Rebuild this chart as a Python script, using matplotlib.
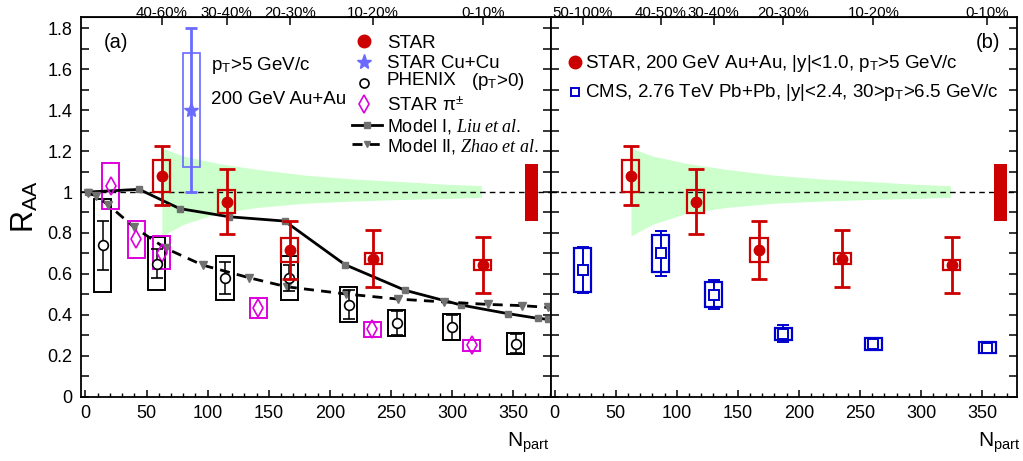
import matplotlib
matplotlib.use("Agg")
import matplotlib.pyplot as plt
from matplotlib.patches import Rectangle
from matplotlib.lines import Line2D
from matplotlib.ticker import MultipleLocator, FuncFormatter, NullLocator

plt.rcParams["font.family"] = ["Liberation Sans", "DejaVu Sans"]
plt.rcParams["mathtext.fontset"] = "custom"
plt.rcParams["mathtext.rm"] = "Liberation Sans"
plt.rcParams["mathtext.sf"] = "Liberation Sans"
plt.rcParams["mathtext.it"] = "Liberation Serif:italic"
plt.rcParams["mathtext.bf"] = "Liberation Sans:bold"

# ---------------- data ----------------
# STAR Au+Au 200 GeV, pT > 5 GeV/c
star_npart = [62.5, 115.5, 167.3, 235.5, 325.0]
star_raa = [1.08, 0.953, 0.717, 0.674, 0.643]
star_stat = [0.145, 0.159, 0.140, 0.138, 0.136]
star_sys = [0.078, 0.057, 0.057, 0.026, 0.025]

# STAR Cu+Cu
cucu_npart = [86.5]
cucu_raa = [1.40]
cucu_stat = [0.40]
cucu_sys = [0.28]

# PHENIX (pT > 0)
phenix_npart = [14.0, 58.2, 114.2, 166.8, 215.6, 254.6, 299.7, 352.0]
phenix_raa = [0.739, 0.650, 0.580, 0.580, 0.450, 0.360, 0.340, 0.259]
phenix_stat = [0.120, 0.070, 0.080, 0.065, 0.070, 0.057, 0.061, 0.047]
phenix_sys = [0.228, 0.128, 0.106, 0.106, 0.087, 0.064, 0.064, 0.050]

# STAR pi+-
pion_npart = [20.6, 41.4, 62.3, 141.4, 234.7, 316.0]
pion_raa = [1.029, 0.769, 0.704, 0.435, 0.329, 0.251]
pion_sys = [0.112, 0.090, 0.082, 0.049, 0.036, 0.027]

# Model I (Liu et al.)
model1_npart = [1.8, 44.0, 77.0, 117.7, 163.0, 212.4, 261.5, 307.3, 345.5, 370.0, 378.8]
model1_raa = [1.0, 1.013, 0.919, 0.879, 0.858, 0.645, 0.520, 0.448, 0.406, 0.383, 0.378]

# Model II (Zhao et al.)
model2_npart = [1.8, 8.3, 18.7, 40.0, 65.6, 95.9, 134.0, 164.6, 213.0, 255.5, 293.7, 329.0, 357.0, 378.8]
model2_raa = [0.997, 0.982, 0.937, 0.827, 0.725, 0.643, 0.581, 0.537, 0.502, 0.477, 0.463, 0.451, 0.445, 0.436]

# CMS Pb+Pb 2.76 TeV
cms_npart = [23.0, 86.9, 130.3, 187.3, 261.0, 354.2]
cms_raa = [0.619, 0.700, 0.498, 0.308, 0.259, 0.240]
cms_stat = [0.114, 0.110, 0.071, 0.040, 0.030, 0.028]
cms_sys = [0.109, 0.090, 0.060, 0.029, 0.029, 0.026]

# Ncoll uncertainty band
band_npart = [62.5, 80, 108, 140, 179, 220, 261, 295, 324]
band_hi = [1.215, 1.176, 1.140, 1.111, 1.083, 1.063, 1.050, 1.038, 1.031]
band_lo = [0.785, 0.842, 0.896, 0.924, 0.945, 0.956, 0.964, 0.968, 0.974]

# global normalisation uncertainty
norm_npart = 365.0
norm_lo, norm_hi = 0.86, 1.137

# centrality classes on the top axes
cent_left = ["40-60%", "30-40%", "20-30%", "10-20%", "0-10%"]
cent_right = ["50-100%", "40-50%", "30-40%", "20-30%", "10-20%", "0-10%"]

# ---------------- styles ----------------
RED = "#cc0000"
BLUE = "#0000cc"
LBLUE = "#6a6aff"
MAG = "#dd00dd"
GREY = "#707070"
GREEN = "#ccffcc"
BOX_HW = 7.0
FS = 13.5

W, H = 1023, 461
fig = plt.figure(figsize=(W / 100, H / 100), dpi=100)
axL = fig.add_axes([80.7 / W, 1 - 396.7 / H, 470 / W, 379.7 / H])
axR = fig.add_axes([551 / W, 1 - 396.7 / H, 466.3 / W, 379.7 / H])


def fpos(X, Y):
    return (X / W, 1 - Y / H)


def sys_boxes(ax, x, y, s, color, lw, z=3):
    for xi, yi, si in zip(x, y, s):
        ax.add_patch(Rectangle((xi - BOX_HW, yi - si), 2 * BOX_HW, 2 * si,
                               fill=False, ec=color, lw=lw, zorder=z))


def frame(ax, xlim, top_ticks, top_labels):
    ax.set_xlim(*xlim)
    ax.set_ylim(0, 1.855)
    ax.xaxis.set_major_locator(MultipleLocator(50))
    ax.xaxis.set_minor_locator(MultipleLocator(10))
    ax.yaxis.set_major_locator(MultipleLocator(0.2))
    ax.yaxis.set_minor_locator(MultipleLocator(0.1))
    ax.yaxis.set_major_formatter(FuncFormatter(lambda v, p: f"{v:.1f}".rstrip("0").rstrip(".") or "0"))
    ax.tick_params(axis="x", which="major", direction="in", length=5.3, width=1.1,
                   top=False, labelsize=13, pad=6)
    ax.tick_params(axis="x", which="minor", direction="in", length=2.6, width=1.0, top=False)
    ax.tick_params(axis="y", which="both", direction="in", length=5.8, width=1.1,
                   left=True, right=True, labelsize=13, pad=6)
    for sp in ax.spines.values():
        sp.set_linewidth(1.3)
    sec = ax.secondary_xaxis("top")
    sec.set_xticks(top_ticks)
    sec.set_xticklabels(top_labels, fontsize=10.8)
    sec.tick_params(direction="in", length=6, width=1.1, pad=-2.5)
    sec.xaxis.set_minor_locator(NullLocator())
    ax.axhline(1.0, color="black", lw=1.0, ls=(0, (4, 3)), zorder=2)
    ax.fill_between(band_npart, band_lo, band_hi, color=GREEN, lw=0, zorder=1)
    ax.add_patch(Rectangle((norm_npart - 5, norm_lo), 10, norm_hi - norm_lo,
                           fc=RED, ec="none", zorder=3))


def draw_star(ax):
    sys_boxes(ax, star_npart, star_raa, star_sys, RED, 1.6, z=5)
    ax.errorbar(star_npart, star_raa, yerr=star_stat, fmt="o", color=RED, ms=7.5,
                elinewidth=2.0, capsize=5.5, capthick=2.0, zorder=6)


# ---------------- left panel ----------------
frame(axL, (-3.9, 380.7), star_npart, cent_left)

axL.plot(model1_npart, model1_raa, color="black", lw=2.0, zorder=4)
axL.plot(model1_npart, model1_raa, ls="none", marker="s", ms=4.5, color=GREY, zorder=4)
axL.plot(model2_npart, model2_raa, color="black", lw=2.0, ls=(0, (3.6, 2.6)), zorder=4)
axL.plot(model2_npart, model2_raa, ls="none", marker="v", ms=5.5, color=GREY, zorder=4)

sys_boxes(axL, phenix_npart, phenix_raa, phenix_sys, "black", 1.4)
axL.errorbar(phenix_npart, phenix_raa, yerr=phenix_stat, fmt="o", mfc="white", mec="black",
             mew=1.2, ms=7, color="black", elinewidth=1.1, capsize=4, capthick=1.1, zorder=5)

sys_boxes(axL, pion_npart, pion_raa, pion_sys, MAG, 1.4)
axL.plot(pion_npart, pion_raa, ls="none", marker="d", ms=9, mfc="none", mec=MAG, mew=1.2, zorder=5)

sys_boxes(axL, cucu_npart, cucu_raa, cucu_sys, LBLUE, 1.2)
axL.errorbar(cucu_npart, cucu_raa, yerr=cucu_stat, fmt="*", color=LBLUE, ms=11,
             elinewidth=2.0, capsize=4, capthick=2.0, zorder=5)

draw_star(axL)

axL.set_ylabel(r"R$_{\mathrm{AA}}$", fontsize=22, labelpad=5)
axL.text(*fpos(116, 43), "(a)", transform=fig.transFigure, fontsize=14.5, ha="center", va="center")
axL.text(*fpos(210.7, 70), r"p$_{\mathrm{T}}$>5 GeV/c", transform=fig.transFigure,
         fontsize=FS, va="baseline")
axL.text(*fpos(210.7, 103.5), "200 GeV Au+Au", transform=fig.transFigure,
         fontsize=FS, va="baseline")

# legend of the left panel
leg_x, txt_x = 364.3, 386.8
rows = [
    (41.5, dict(marker="o", ms=9, color=RED, ls="none"), "STAR"),
    (61.6, dict(marker="*", ms=11, color=LBLUE, ls="none"), "STAR Cu+Cu"),
    (82.7, dict(marker="o", ms=6.5, mfc="white", mec="black", mew=1.2, ls="none"), "PHENIX"),
    (104.2, dict(marker="d", ms=9, mfc="none", mec=MAG, mew=1.2, ls="none"), r"STAR π$^{\pm}$"),
]
for y, kw, label in rows:
    fig.add_artist(Line2D([leg_x / W], [1 - y / H], transform=fig.transFigure, **kw))
    ty = y + 6.7 if label != "PHENIX" else 85.0
    fig.text(*fpos(txt_x, ty), label, fontsize=FS, va="baseline")
fig.text(*fpos(471, 86.5), r"(p$_{\mathrm{T}}$>0)", fontsize=FS, va="baseline")

for y, ls, mk, label in [(125.0, "-", "s", r"Model I, $\mathit{Liu\ et\ al.}$"),
                         (144.5, (0, (3.6, 2.6)), "v", r"Model II, $\mathit{Zhao\ et\ al.}$")]:
    fig.add_artist(Line2D([351.8 / W, 382 / W], [1 - y / H] * 2, transform=fig.transFigure,
                          color="black", lw=2.0, ls=ls))
    fig.add_artist(Line2D([367 / W], [1 - y / H], transform=fig.transFigure,
                          marker=mk, ms=5, color=GREY, ls="none"))
    fig.text(*fpos(txt_x, y + 6.5), label, fontsize=13, va="baseline")

fig.text(*fpos(549, 446.7), r"N$_{\mathrm{part}}$", fontsize=15, ha="right", va="baseline")

# ---------------- right panel ----------------
frame(axR, (-2.9, 378.7), cms_npart, cent_right)
axR.tick_params(axis="y", labelleft=False)

sys_boxes(axR, cms_npart, cms_raa, cms_sys, BLUE, 1.6)
axR.errorbar(cms_npart, cms_raa, yerr=cms_stat, fmt="s", mfc="white", mec=BLUE, mew=1.4,
             ms=6.5, color=BLUE, elinewidth=1.4, capsize=4, capthick=1.4, zorder=5)
draw_star(axR)

axR.text(*fpos(988, 43), "(b)", transform=fig.transFigure, fontsize=14.5, ha="center", va="center")
fig.add_artist(Line2D([575 / W], [1 - 61.7 / H], transform=fig.transFigure,
                      marker="o", ms=9, color=RED, ls="none"))
fig.text(*fpos(585, 68.3), r"STAR, 200 GeV Au+Au, |y|<1.0, p$_{\mathrm{T}}$>5 GeV/c",
         fontsize=FS, va="baseline")
fig.add_artist(Line2D([575 / W], [1 - 91.7 / H], transform=fig.transFigure,
                      marker="s", ms=6, mfc="white", mec=BLUE, mew=1.4, ls="none"))
fig.text(*fpos(585, 96.7), r"CMS, 2.76 TeV Pb+Pb, |y|<2.4, 30>p$_{\mathrm{T}}$>6.5 GeV/c",
         fontsize=FS, va="baseline")
fig.text(*fpos(1020, 446.7), r"N$_{\mathrm{part}}$", fontsize=15, ha="right", va="baseline")

fig.savefig("out.png", dpi=100)
